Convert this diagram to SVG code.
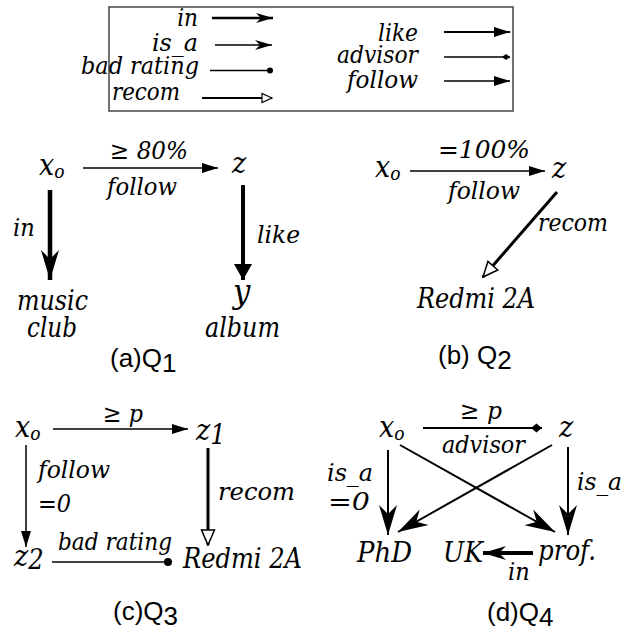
<svg xmlns="http://www.w3.org/2000/svg" width="624" height="637" viewBox="0 0 624 637">
<style>
text{font-family:"DejaVu Serif Condensed","DejaVu Serif",serif;font-style:italic;fill:#000}
.lg{font-size:24px}
.lb{font-size:25px}
.nd{font-size:27px}
.vr{font-size:30px}
.sb{font-size:19px}
.cap{font-family:"Liberation Sans",Arial,sans-serif;font-style:normal;font-size:26px}
.ln{stroke:#000;fill:none}
</style>
<defs>
<marker id="barb" markerUnits="userSpaceOnUse" viewBox="-31 -10 32 20" markerWidth="32" markerHeight="20" refX="0" refY="0" orient="auto" overflow="visible">
<path d="M0,0 L-30,-9 L-21,0 L-30,9 Z" fill="#000"/>
</marker>
<marker id="barbM" markerUnits="userSpaceOnUse" viewBox="-24 -8 25 16" markerWidth="25" markerHeight="16" refX="0" refY="0" orient="auto" overflow="visible">
<path d="M0,0 L-23,-7 L-16,0 L-23,7 Z" fill="#000"/>
</marker>
<marker id="barbS" markerUnits="userSpaceOnUse" viewBox="-18 -6 19 12" markerWidth="19" markerHeight="12" refX="0" refY="0" orient="auto" overflow="visible">
<path d="M0,0 L-17,-5 L-12,0 L-17,5 Z" fill="#000"/>
</marker>
<marker id="tri" markerUnits="userSpaceOnUse" viewBox="-17 -6 18 12" markerWidth="18" markerHeight="12" refX="0" refY="0" orient="auto" overflow="visible">
<path d="M0,0 L-16,-5 L-16,5 Z" fill="#000"/>
</marker>
<marker id="triBig" markerUnits="userSpaceOnUse" viewBox="-17 -10 18 20" markerWidth="18" markerHeight="20" refX="0" refY="0" orient="auto" overflow="visible">
<path d="M0,0 L-16,-9 L-16,9 Z" fill="#000"/>
</marker>
<marker id="open" markerUnits="userSpaceOnUse" viewBox="-17 -8 18 16" markerWidth="18" markerHeight="16" refX="0" refY="0" orient="auto" overflow="visible">
<path d="M0,0 L-15,-6.5 L-15,6.5 Z" fill="#fff" stroke="#000" stroke-width="1.5"/>
</marker>
<marker id="openS" markerUnits="userSpaceOnUse" viewBox="-12 -6 13 12" markerWidth="13" markerHeight="12" refX="0" refY="0" orient="auto" overflow="visible">
<path d="M0,0 L-10,-4.5 L-10,4.5 Z" fill="#fff" stroke="#000" stroke-width="1.2"/>
</marker>
<marker id="dot" markerUnits="userSpaceOnUse" viewBox="-5 -5 10 10" markerWidth="10" markerHeight="10" refX="0" refY="0" orient="auto" overflow="visible">
<circle cx="0" cy="0" r="4" fill="#000"/>
</marker>
<marker id="dotS" markerUnits="userSpaceOnUse" viewBox="-4 -4 8 8" markerWidth="8" markerHeight="8" refX="0" refY="0" orient="auto" overflow="visible">
<circle cx="0" cy="0" r="3" fill="#000"/>
</marker>
<marker id="dia" markerUnits="userSpaceOnUse" viewBox="-11 -6 12 12" markerWidth="12" markerHeight="12" refX="0" refY="0" orient="auto" overflow="visible">
<path d="M0,0 L-5.5,-4.5 L-11,0 L-5.5,4.5 Z" fill="#000"/>
</marker>
<marker id="diaS" markerUnits="userSpaceOnUse" viewBox="-8 -4 9 8" markerWidth="9" markerHeight="8" refX="0" refY="0" orient="auto" overflow="visible">
<path d="M0,0 L-4,-3 L-8,0 L-4,3 Z" fill="#000"/>
</marker>
</defs>

<g id="legend">
<rect x="109" y="7" width="404" height="104" fill="#fff" stroke="#444" stroke-width="1.5"/>
<text class="lg" x="198" y="26" text-anchor="end">in</text>
<line class="ln" x1="212" y1="18" x2="273" y2="18" stroke-width="2.5" marker-end="url(#barbS)"/>
<text class="lg" x="198" y="51" text-anchor="end" textLength="46" lengthAdjust="spacingAndGlyphs">is_a</text>
<line class="ln" x1="215" y1="45" x2="272" y2="45" stroke-width="1.5" marker-end="url(#barbS)"/>
<text class="lg" x="199" y="74" text-anchor="end" textLength="118" lengthAdjust="spacingAndGlyphs">bad rating</text>
<line class="ln" x1="210" y1="70.5" x2="270" y2="70.5" stroke-width="1.5" marker-end="url(#dotS)"/>
<text class="lg" x="180" y="100" text-anchor="end" textLength="68" lengthAdjust="spacingAndGlyphs">recom</text>
<line class="ln" x1="202" y1="98" x2="272" y2="98" stroke-width="2" marker-end="url(#openS)"/>
<text class="lg" x="418" y="41" text-anchor="end" textLength="40" lengthAdjust="spacingAndGlyphs">like</text>
<line class="ln" x1="444" y1="32" x2="510" y2="32" stroke-width="2" marker-end="url(#tri)"/>
<text class="lg" x="418" y="63" text-anchor="end" textLength="81" lengthAdjust="spacingAndGlyphs">advisor</text>
<line class="ln" x1="444" y1="57" x2="510" y2="57" stroke-width="1.5" marker-end="url(#diaS)"/>
<text class="lg" x="418" y="88" text-anchor="end" textLength="71" lengthAdjust="spacingAndGlyphs">follow</text>
<line class="ln" x1="444" y1="81" x2="510" y2="81" stroke-width="1.5" marker-end="url(#tri)"/>
</g>

<g id="connectors">
<line class="ln" x1="83" y1="168" x2="218" y2="168" stroke-width="1.5" marker-end="url(#tri)"/>
<line class="ln" x1="50" y1="190" x2="50" y2="280" stroke-width="4.5" marker-end="url(#barb)"/>
<line class="ln" x1="243" y1="185" x2="243" y2="280" stroke-width="4" marker-end="url(#triBig)"/>
<line class="ln" x1="410" y1="171" x2="545" y2="171" stroke-width="1.5" marker-end="url(#tri)"/>
<line class="ln" x1="557" y1="192" x2="483" y2="277" stroke-width="3" marker-end="url(#open)"/>
<line class="ln" x1="53" y1="429" x2="188" y2="429" stroke-width="1.5" marker-end="url(#tri)"/>
<line class="ln" x1="26" y1="445" x2="26" y2="547" stroke-width="1.5" marker-end="url(#tri)"/>
<line class="ln" x1="208" y1="448" x2="208" y2="545" stroke-width="3" marker-end="url(#open)"/>
<line class="ln" x1="52" y1="562" x2="168" y2="562" stroke-width="1.5" marker-end="url(#dot)"/>
<line class="ln" x1="423" y1="428" x2="542" y2="428" stroke-width="2" marker-end="url(#dia)"/>
<line class="ln" x1="388" y1="450" x2="388" y2="535" stroke-width="2" marker-end="url(#barb)"/>
<line class="ln" x1="400" y1="445" x2="555" y2="532" stroke-width="2" marker-end="url(#barb)"/>
<line class="ln" x1="552" y1="445" x2="398" y2="532" stroke-width="2" marker-end="url(#barb)"/>
<line class="ln" x1="568" y1="447" x2="568" y2="535" stroke-width="2" marker-end="url(#barb)"/>
<line class="ln" x1="533" y1="553" x2="483" y2="553" stroke-width="4" marker-end="url(#barbM)"/>
</g>

<g id="edge-labels">
<text class="lb" x="110" y="159" textLength="78" lengthAdjust="spacingAndGlyphs">≥ 80%</text>
<text class="lb" x="107" y="195" textLength="70" lengthAdjust="spacingAndGlyphs">follow</text>
<text class="lb" x="13" y="236">in</text>
<text class="lb" x="257" y="243" textLength="43" lengthAdjust="spacingAndGlyphs">like</text>
<text class="lb" x="438" y="158" textLength="92" lengthAdjust="spacingAndGlyphs">=100%</text>
<text class="lb" x="448" y="199" textLength="72" lengthAdjust="spacingAndGlyphs">follow</text>
<text class="lb" x="538" y="231" textLength="70" lengthAdjust="spacingAndGlyphs">recom</text>
<text class="lb" x="103" y="422" textLength="40" lengthAdjust="spacingAndGlyphs">≥ p</text>
<text class="lb" x="38" y="478" textLength="72" lengthAdjust="spacingAndGlyphs">follow</text>
<text class="lb" x="38" y="512">=0</text>
<text class="lb" x="218" y="500" textLength="77" lengthAdjust="spacingAndGlyphs">recom</text>
<text class="lb" x="58" y="550" textLength="114" lengthAdjust="spacingAndGlyphs">bad rating</text>
<text class="lb" x="460" y="419" textLength="42" lengthAdjust="spacingAndGlyphs">≥ p</text>
<text class="lb" x="442" y="453" textLength="83" lengthAdjust="spacingAndGlyphs">advisor</text>
<text class="lb" x="327" y="481" textLength="46" lengthAdjust="spacingAndGlyphs">is_a</text>
<text class="lb" x="328" y="510" textLength="42" lengthAdjust="spacingAndGlyphs">=0</text>
<text class="lb" x="577" y="490" textLength="45" lengthAdjust="spacingAndGlyphs">is_a</text>
<text class="lb" x="508" y="580">in</text>
</g>

<g id="q1-xo"><text class="vr" x="39" y="175">x<tspan class="sb" dy="3">o</tspan></text></g>
<g id="q1-z"><text class="vr" x="232" y="173">z</text></g>
<g id="q1-music"><text class="nd" x="17" y="310" textLength="71" lengthAdjust="spacingAndGlyphs">music</text><text class="nd" x="27" y="337" textLength="50" lengthAdjust="spacingAndGlyphs">club</text></g>
<g id="q1-y"><text class="vr" x="233" y="303" style="font-size:34px">y</text><text class="nd" x="205" y="337" textLength="75" lengthAdjust="spacingAndGlyphs">album</text></g>

<g id="q2-xo"><text class="vr" x="375" y="177">x<tspan class="sb" dy="3">o</tspan></text></g>
<g id="q2-z"><text class="vr" x="552" y="178">z</text></g>
<g id="q2-redmi"><text class="nd" x="417" y="308" textLength="118" lengthAdjust="spacingAndGlyphs">Redmi 2A</text></g>

<g id="q3-xo"><text class="vr" x="15" y="437">x<tspan class="sb" dy="3">o</tspan></text></g>
<g id="q3-z1"><text class="vr" x="196" y="440">z<tspan class="nd" dy="4">1</tspan></text></g>
<g id="q3-z2"><text class="vr" x="14" y="566">z<tspan class="nd" dy="3">2</tspan></text></g>
<g id="q3-redmi"><text class="nd" x="183" y="568" textLength="119" lengthAdjust="spacingAndGlyphs">Redmi 2A</text></g>

<g id="q4-xo"><text class="vr" x="379" y="437">x<tspan class="sb" dy="3">o</tspan></text></g>
<g id="q4-z"><text class="vr" x="559" y="437">z</text></g>
<g id="q4-phd"><text class="nd" x="357" y="562" textLength="55" lengthAdjust="spacingAndGlyphs">PhD</text></g>
<g id="q4-uk"><text class="nd" x="443" y="562" textLength="40" lengthAdjust="spacingAndGlyphs">UK</text></g>
<g id="q4-prof"><text class="nd" x="538" y="560" textLength="58" lengthAdjust="spacingAndGlyphs">prof.</text></g>

<g id="captions">
<text class="cap" x="110" y="367">(a)Q<tspan dy="5">1</tspan></text>
<text class="cap" x="438" y="364">(b) Q<tspan dy="5">2</tspan></text>
<text class="cap" x="113" y="620">(c)Q<tspan dy="5">3</tspan></text>
<text class="cap" x="487" y="621">(d)Q<tspan dy="5">4</tspan></text>
</g>
</svg>
